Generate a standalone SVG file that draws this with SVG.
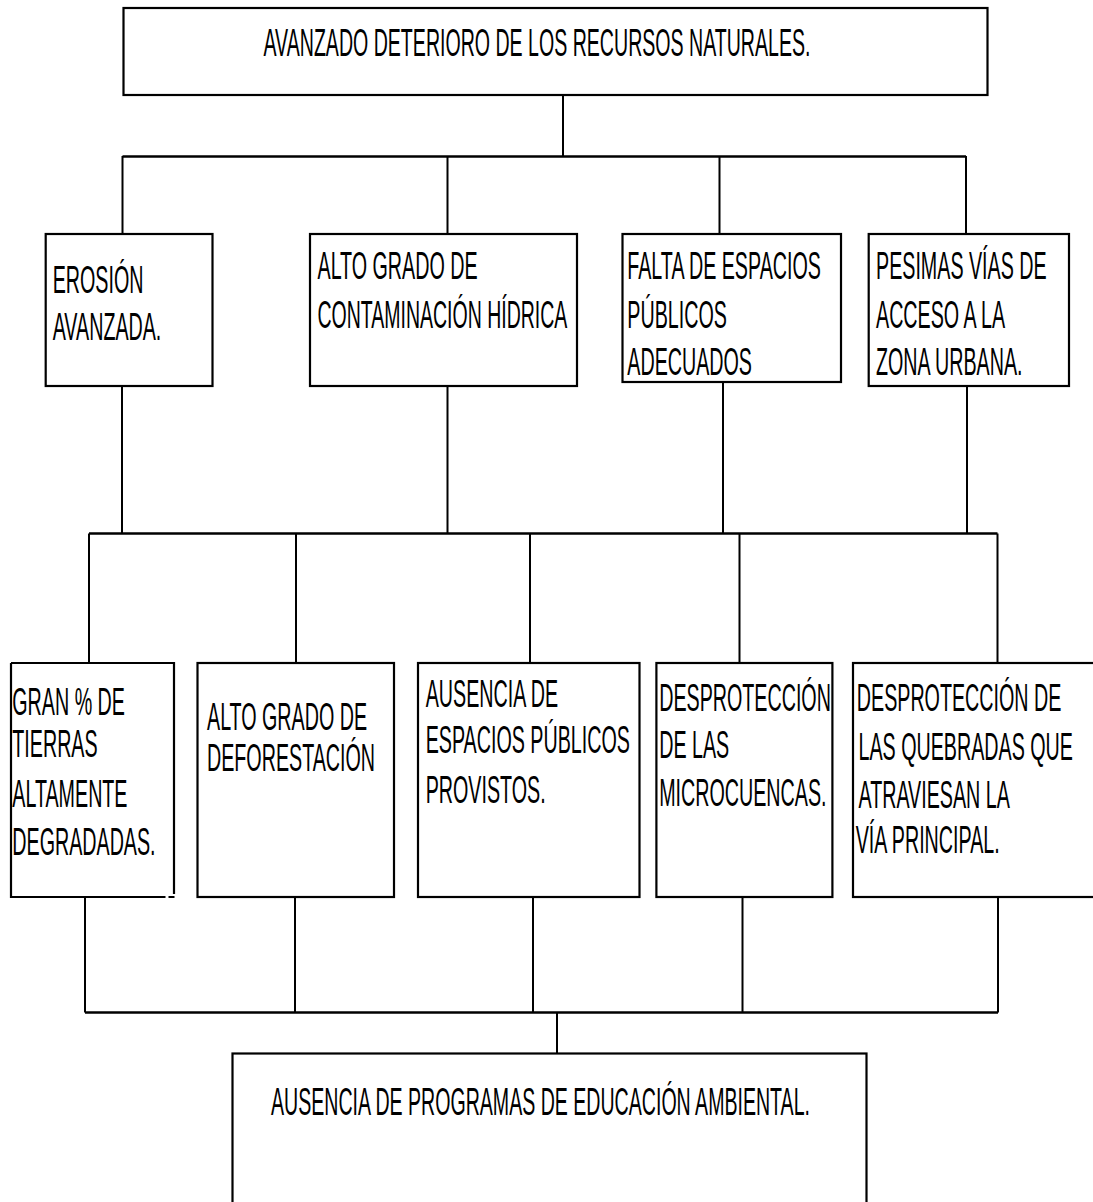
<svg xmlns="http://www.w3.org/2000/svg" width="1093" height="1202" viewBox="0 0 1093 1202">
<style>
  .bg { fill: #ffffff; }
  .box { fill: #ffffff; stroke: #000000; stroke-width: 2.2; }
  .ln { fill: none; stroke: #000000; stroke-width: 2; }
  .lh { fill: none; stroke: #000000; stroke-width: 2.6; }
  .t { font-family: "Liberation Sans", Arial, sans-serif; font-size: 39px; fill: #000000; }
</style>
<rect class="bg" x="0" y="0" width="1093" height="1202"/>

<g id="connectors">
  <path class="ln" d="M563 95 V156"/>
  <path class="lh" d="M122.5 156.5 H966"/>
  <path class="ln" d="M122.5 156 V234 M447.5 156 V234 M719.5 156 V234 M966 156 V234"/>
  <path class="ln" d="M122 386 V533.5 M447.5 386 V533.5 M723 382 V533.5 M967 386 V533.5"/>
  <path class="lh" d="M89 533.5 H997.5"/>
  <path class="ln" d="M89 533.5 V663 M296 533.5 V663 M530 533.5 V663 M739.5 533.5 V663 M997.5 533.5 V663"/>
  <path class="ln" d="M85 897 V1012.5 M295 897 V1012.5 M533 897 V1012.5 M742.5 897 V1012.5 M998 897 V1012.5"/>
  <path class="lh" d="M85 1012.5 H998"/>
  <path class="ln" d="M557 1012.5 V1053.5"/>
</g>

<g id="n-top">
  <rect class="box" x="123.5" y="8" width="864" height="87"/>
  <text class="t" transform="translate(263.5 56) scale(0.502 1)">AVANZADO DETERIORO DE LOS RECURSOS NATURALES.</text>
</g>

<g id="n-erosion">
  <rect class="box" x="45.7" y="234" width="166.8" height="152"/>
  <text class="t" transform="translate(52.7 293) scale(0.505 1)">EROSIÓN</text>
  <text class="t" transform="translate(52.7 340) scale(0.505 1)">AVANZADA.</text>
</g>

<g id="n-contaminacion">
  <rect class="box" x="310" y="234" width="267" height="152"/>
  <text class="t" transform="translate(317.5 279) scale(0.505 1)">ALTO GRADO DE</text>
  <text class="t" transform="translate(317.5 328) scale(0.5 1)">CONTAMINACIÓN HÍDRICA</text>
</g>

<g id="n-espacios">
  <rect class="box" x="622.5" y="234" width="218.5" height="148"/>
  <text class="t" transform="translate(627.3 279) scale(0.505 1)">FALTA DE ESPACIOS</text>
  <text class="t" transform="translate(627.3 328) scale(0.505 1)">PÚBLICOS</text>
  <text class="t" transform="translate(627.3 375) scale(0.505 1)">ADECUADOS</text>
</g>

<g id="n-vias">
  <rect class="box" x="868.7" y="234" width="200.3" height="152"/>
  <text class="t" transform="translate(876 279) scale(0.505 1)">PESIMAS VÍAS DE</text>
  <text class="t" transform="translate(876 328) scale(0.505 1)">ACCESO A LA</text>
  <text class="t" transform="translate(876 375) scale(0.505 1)">ZONA URBANA.</text>
</g>

<g id="n-tierras">
  <path class="box" d="M11 663 H174 V894 M11 663 V897 H165.5 M168.5 897 H174.5"/>
  <text class="t" transform="translate(12.3 715) scale(0.505 1)">GRAN % DE</text>
  <text class="t" transform="translate(12.3 756.7) scale(0.505 1)">TIERRAS</text>
  <text class="t" transform="translate(12.3 806.7) scale(0.505 1)">ALTAMENTE</text>
  <text class="t" transform="translate(12.3 855) scale(0.505 1)">DEGRADADAS.</text>
</g>

<g id="n-deforestacion">
  <rect class="box" x="197.5" y="663" width="196.5" height="234"/>
  <text class="t" transform="translate(207 730) scale(0.505 1)">ALTO GRADO DE</text>
  <text class="t" transform="translate(207 771) scale(0.505 1)">DEFORESTACIÓN</text>
</g>

<g id="n-ausencia-espacios">
  <rect class="box" x="418" y="663" width="221.5" height="234"/>
  <text class="t" transform="translate(425.7 706.7) scale(0.505 1)">AUSENCIA DE</text>
  <text class="t" transform="translate(425.7 753.3) scale(0.505 1)">ESPACIOS PÚBLICOS</text>
  <text class="t" transform="translate(425.7 803.3) scale(0.505 1)">PROVISTOS.</text>
</g>

<g id="n-microcuencas">
  <rect class="box" x="656.4" y="663" width="176" height="234"/>
  <text class="t" transform="translate(659.2 710.7) scale(0.505 1)">DESPROTECCIÓN</text>
  <text class="t" transform="translate(659.2 758.3) scale(0.505 1)">DE LAS</text>
  <text class="t" transform="translate(659.2 805.7) scale(0.505 1)">MICROCUENCAS.</text>
</g>

<g id="n-quebradas">
  <rect class="box" x="853" y="663" width="260" height="234"/>
  <text class="t" transform="translate(856.8 710.7) scale(0.505 1)">DESPROTECCIÓN DE</text>
  <text class="t" transform="translate(858.5 760) scale(0.505 1)">LAS QUEBRADAS QUE</text>
  <text class="t" transform="translate(858.5 808.3) scale(0.505 1)">ATRAVIESAN LA</text>
  <text class="t" transform="translate(855.7 853.3) scale(0.505 1)">VÍA PRINCIPAL.</text>
</g>

<g id="n-educacion">
  <rect class="box" x="232.5" y="1053.5" width="634" height="200"/>
  <text class="t" transform="translate(271 1115) scale(0.502 1)">AUSENCIA DE PROGRAMAS DE EDUCACIÓN AMBIENTAL.</text>
</g>
</svg>
